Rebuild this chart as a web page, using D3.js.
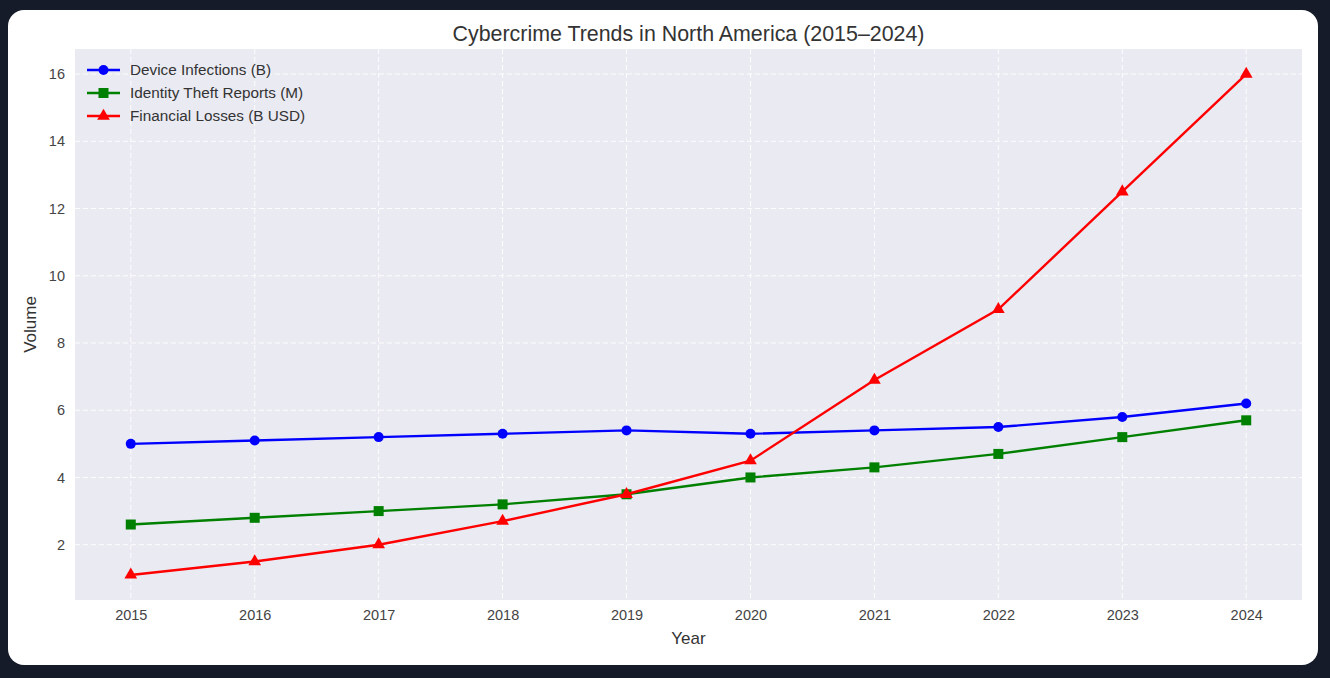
<!DOCTYPE html>
<html>
<head>
<meta charset="utf-8">
<title>Cybercrime Trends</title>
<script src="https://d3js.org/d3.v7.min.js"></script>
<style>
  html, body { margin: 0; padding: 0; background: #151b29; }
  .card {
    position: absolute; left: 8px; top: 10px; width: 1310px; height: 655px;
    background: #fff; border-radius: 16px; overflow: hidden;
  }
  svg { font-family: "Liberation Sans", Arial, sans-serif; }
  .tick text { fill: #444; font-size: 14.5px; }
  .tick line { display: none; }
  .domain { display: none; }
</style>
</head>
<body>
<div class="card"><svg width="1310" height="655"></svg></div>
<script>
const years = [2015, 2016, 2017, 2018, 2019, 2020, 2021, 2022, 2023, 2024];
const deviceInfections = [5.0, 5.1, 5.2, 5.3, 5.4, 5.3, 5.4, 5.5, 5.8, 6.2];
const identityTheft = [2.6, 2.8, 3.0, 3.2, 3.5, 4.0, 4.3, 4.7, 5.2, 5.7];
const financialLosses = [1.1, 1.5, 2.0, 2.7, 3.5, 4.5, 6.9, 9.0, 12.5, 16.0];
const yTicks = [2, 4, 6, 8, 10, 12, 14, 16];

const series = [
  {name: "Device Infections (B)", values: deviceInfections, color: "#0000ff", shape: "circle"},
  {name: "Identity Theft Reports (M)", values: identityTheft, color: "#008000", shape: "square"},
  {name: "Financial Losses (B USD)", values: financialLosses, color: "#ff0000", shape: "triangle"}
];

const svg = d3.select("svg");
// card offset: plot area from page x 75..1302, y 49..600
const margin = {left: 67, top: 39, right: 16, bottom: 65};
const width = 1310 - margin.left - margin.right,
      height = 655 - margin.top - margin.bottom;

const allVals = deviceInfections.concat(identityTheft, financialLosses);
const yMin = d3.min(allVals), yMax = d3.max(allVals);
const yPad = (yMax - yMin) * 0.05;
const xPad = (years[years.length - 1] - years[0]) * 0.05;

const x = d3.scaleLinear()
  .domain([years[0] - xPad, years[years.length - 1] + xPad])
  .range([0, width]);
const y = d3.scaleLinear()
  .domain([yMin - yPad, yMax + yPad])
  .range([height, 0]);

const g = svg.append("g").attr("transform", "translate(" + margin.left + "," + margin.top + ")");

g.append("rect").attr("width", width).attr("height", height).attr("fill", "#eaeaf2");

// grid
g.append("g").selectAll("line").data(years).join("line")
  .attr("x1", d => x(d)).attr("x2", d => x(d))
  .attr("y1", 0).attr("y2", height)
  .attr("stroke", "#fff").attr("stroke-width", 1).attr("stroke-dasharray", "5,3").attr("opacity", 0.9);
g.append("g").selectAll("line").data(yTicks).join("line")
  .attr("x1", 0).attr("x2", width)
  .attr("y1", d => y(d)).attr("y2", d => y(d))
  .attr("stroke", "#fff").attr("stroke-width", 1).attr("stroke-dasharray", "5,3").attr("opacity", 0.9);

g.append("g")
  .attr("transform", "translate(0," + height + ")")
  .call(d3.axisBottom(x).tickValues(years).tickFormat(d3.format("d")).tickSize(0).tickPadding(10));
g.append("g")
  .call(d3.axisLeft(y).tickValues(yTicks).tickSize(0).tickPadding(10));

const line = d3.line().x((d, i) => x(years[i])).y(d => y(d));

function drawMarker(sel, shape, color) {
  if (shape === "circle") {
    sel.append("circle").attr("r", 5).attr("fill", color);
  } else if (shape === "square") {
    sel.append("rect").attr("x", -5).attr("y", -5).attr("width", 10).attr("height", 10).attr("fill", color);
  } else {
    sel.append("path").attr("d", d3.symbol(d3.symbolTriangle, 70)()).attr("fill", color);
  }
}

series.forEach(s => {
  g.append("path").datum(s.values)
    .attr("d", line).attr("fill", "none")
    .attr("stroke", s.color).attr("stroke-width", 2.4);
  g.append("g").selectAll("g").data(s.values).join("g")
    .attr("transform", (d, i) => "translate(" + x(years[i]) + "," + y(d) + ")")
    .each(function() { drawMarker(d3.select(this), s.shape, s.color); });
});

// legend
const legend = g.append("g").attr("transform", "translate(12,21)");
series.forEach((s, i) => {
  const row = legend.append("g").attr("transform", "translate(0," + (i * 23) + ")");
  row.append("line").attr("x1", 0).attr("x2", 33).attr("stroke", s.color).attr("stroke-width", 2.4);
  drawMarker(row.append("g").attr("transform", "translate(16.5,0)"), s.shape, s.color);
  row.append("text").attr("x", 43).attr("y", 5).attr("fill", "#333")
    .style("font-size", "15.3px").text(s.name);
});

// title & labels
svg.append("text").attr("x", margin.left + width / 2).attr("y", 31)
  .attr("text-anchor", "middle").attr("fill", "#333").style("font-size", "21.4px")
  .text("Cybercrime Trends in North America (2015–2024)");
svg.append("text").attr("x", margin.left + width / 2).attr("y", 634)
  .attr("text-anchor", "middle").attr("fill", "#333").style("font-size", "17px")
  .text("Year");
svg.append("text")
  .attr("transform", "translate(28," + (margin.top + height / 2) + ") rotate(-90)")
  .attr("text-anchor", "middle").attr("fill", "#333").style("font-size", "17px")
  .text("Volume");
</script>
</body>
</html>
